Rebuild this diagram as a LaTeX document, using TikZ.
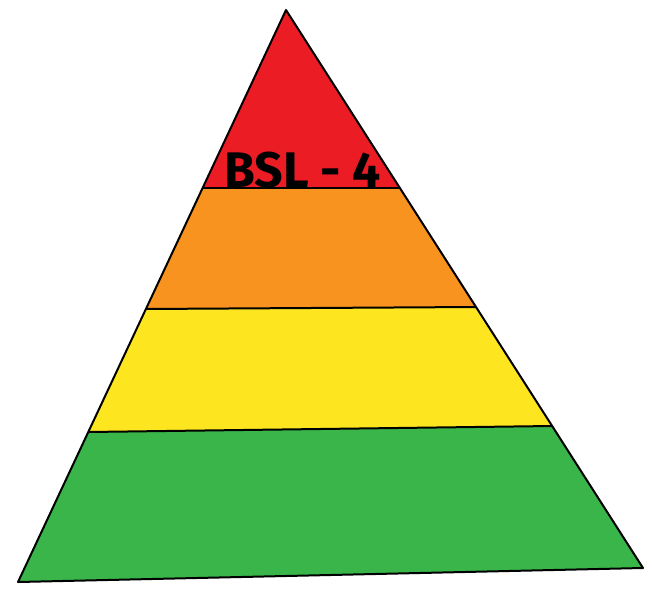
\documentclass[tikz,border=0pt]{standalone}
\usepackage{fontspec}
\newfontfamily\labelfont{Fira Sans}
\definecolor{cred}{HTML}{EC1C24}
\definecolor{corange}{HTML}{F7931E}
\definecolor{cyellow}{HTML}{FDE61F}
\definecolor{cgreen}{HTML}{39B54A}
\begin{document}
\begin{tikzpicture}[x=1pt,y=-1pt,
  band/.style={draw=black,line width=2pt,line join=round}]
\useasboundingbox (0,0) rectangle (652,588);
\coordinate (apex) at (286,10);
\coordinate (bl) at (18,582);
\coordinate (br) at (643,568);
% band boundaries
\coordinate (l1) at (202.6,188);
\coordinate (r1) at (400,188);
\coordinate (l2) at (145.6,309);
\coordinate (r2) at (476,307);
\coordinate (l3) at (88.5,432);
\coordinate (r3) at (552,426);
\fill[cgreen] (l3) -- (r3) -- (br) -- (bl) -- cycle;
\fill[cyellow] (l2) -- (r2) -- (r3) -- (l3) -- cycle;
\fill[corange] (l1) -- (r1) -- (r2) -- (l2) -- cycle;
\fill[cred] (apex) -- (r1) -- (l1) -- cycle;
\draw[band] (l1) -- (r1);
\draw[band] (l2) -- (r2);
\draw[band] (l3) -- (r3);
\draw[band] (apex) -- (br) -- (bl) -- cycle;
\node[anchor=base,inner sep=0pt,font=\labelfont\bfseries\fontsize{50}{50}\selectfont] (lbl) at (303,187) {BSL - 4};
\end{tikzpicture}
\end{document}
